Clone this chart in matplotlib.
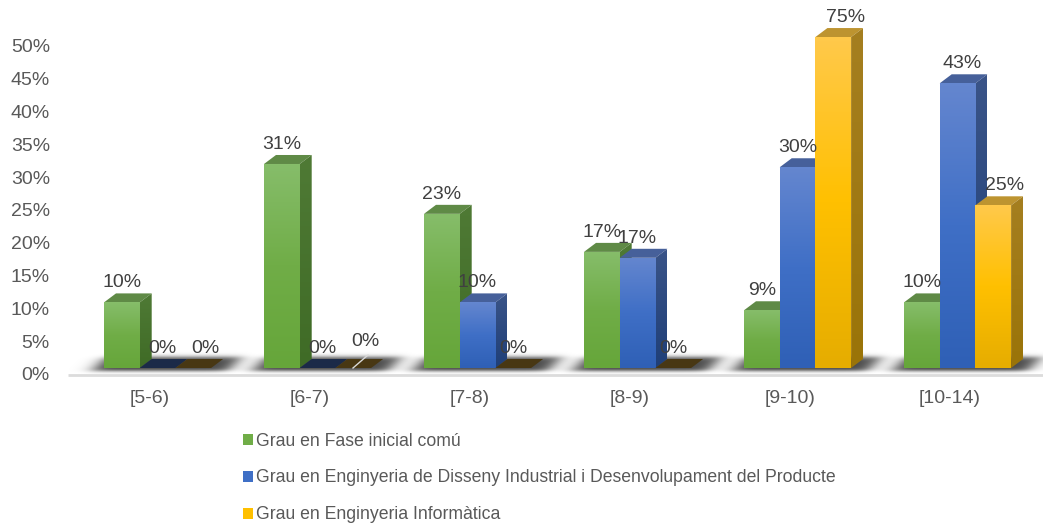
import numpy as np
import matplotlib
matplotlib.use("Agg")
import matplotlib.pyplot as plt
from matplotlib.patches import Patch, Polygon
from matplotlib.colors import LinearSegmentedColormap

plt.rcParams["font.family"] = ["Liberation Sans", "DejaVu Sans"]

categories = ["[5-6)", "[6-7)", "[7-8)", "[8-9)", "[9-10)", "[10-14)"]
series_names = [
    "Grau en Fase inicial comú",
    "Grau en Enginyeria de Disseny Industrial i Desenvolupament del Producte",
    "Grau en Enginyeria Informàtica",
]
fase_inicial = [10.0, 31.1, 23.5, 17.7, 8.8, 10.0]
disseny = [0, 0, 10.0, 16.8, 30.6, 43.4]
informatica = [0, 0, 0, 0, 75.0, 24.8]
fase_labels = ["10%", "31%", "23%", "17%", "9%", "10%"]
disseny_labels = ["0%", "0%", "10%", "17%", "30%", "43%"]
informatica_labels = ["0%", "0%", "0%", "0%", "75%", "25%"]

# ── Sizes in pixels of the 1043x524 canvas ───────────────────────────────────
W, H = 1043, 524
PX_PER_CAT = 160.0
PX_PER_PCT = 6.56
FLOOR_PX = 374
AXIS_MAX = 50.45      # the 3D axis stops here, taller bars are cut off
BASE = 6 / PX_PER_PCT
DX = 12 / PX_PER_CAT
DY = 9 / PX_PER_PCT
BAR_W = 35.7 / PX_PER_CAT
FIRST_BAR = -44 / PX_PER_CAT
TICK_NUDGE = 2 / PX_PER_CAT

STYLES = [
    dict(front=["#66a63a", "#70ad47", "#86bd6a"], side=["#3f6b26", "#4f7a35"], top="#5f8a46", zero="#3b5a28"),
    dict(front=["#2f60b6", "#3f6fc6", "#6486cf"], side=["#1f3f78", "#3a5488"], top="#46609a", zero="#1b2a48"),
    dict(front=["#e6ad00", "#ffc000", "#ffc94a"], side=["#9a7408", "#a57f20"], top="#bd9430", zero="#483713"),
]

# label nudges (px) where Excel moved the label away from the bar centre
LABEL_SHIFT = {
    (1, 0): (5, 0), (1, 1): (5, 0), (1, 5): (5, 0),
    (2, 0): (12, 0), (2, 1): (12, -7), (2, 4): (12, 0), (2, 5): (11, 0),
}

fig = plt.figure(figsize=(W / 100, H / 100), dpi=100, facecolor="white")
ax = fig.add_axes([68 / W, (H - FLOOR_PX) / H, 1 - 68 / W, FLOOR_PX / H])
xlim = (-0.5, (W - 148) / PX_PER_CAT)
ylim = (0, FLOOR_PX / PX_PER_PCT)


def fill_gradient(patch, colors, zorder):
    """Paint a vertical gradient (bottom to top) clipped to the patch."""
    ax.add_patch(patch)
    patch.set(facecolor="none", edgecolor="none", zorder=zorder)
    box = patch.get_path().vertices if isinstance(patch, Polygon) else patch.get_corners()
    x0, x1 = box[:, 0].min(), box[:, 0].max()
    y0, y1 = box[:, 1].min(), box[:, 1].max()
    cmap = LinearSegmentedColormap.from_list("g", colors)
    img = ax.imshow(np.linspace(1, 0, 64).reshape(-1, 1), cmap=cmap, aspect="auto",
                    extent=(x0, x1, y0, y1), zorder=zorder, interpolation="bilinear")
    img.set_clip_path(patch)


def floor_shadow(i):
    """Soft dark parallelogram under one category."""
    xs = np.linspace(60, 260, 220)
    ys = np.linspace(350, 378, 60)
    xx, yy = np.meshgrid(xs, ys)
    skew = xx + (yy - 370) * 0.95
    across = (np.tanh((skew - 93) / 10) - np.tanh((skew - 229) / 10)) / 2
    down = (np.tanh((yy - 357) / 2.6) - np.tanh((yy - 371) / 2.0)) / 2
    rgba = np.zeros(xx.shape + (4,))
    rgba[..., 3] = 0.72 * across * down
    left = (xs[0] - 148) / PX_PER_CAT + i
    right = (xs[-1] - 148) / PX_PER_CAT + i
    ax.imshow(rgba, aspect="auto", zorder=1, interpolation="bilinear",
              extent=(left, right, (FLOOR_PX - ys[-1]) / PX_PER_PCT, (FLOOR_PX - ys[0]) / PX_PER_PCT))


for i in range(len(categories)):
    floor_shadow(i)

all_values = [fase_inicial, disseny, informatica]
all_labels = [fase_labels, disseny_labels, informatica_labels]
positions = np.arange(len(categories))

for s, (values, labels, style) in enumerate(zip(all_values, all_labels, STYLES)):
    z = 3 + s
    lefts = positions + FIRST_BAR + s * BAR_W
    heights = np.minimum(values, AXIS_MAX)
    bars = ax.bar(lefts, heights, BAR_W, bottom=BASE, align="edge", zorder=z)
    for c, (bar, height) in enumerate(zip(bars, heights)):
        x0, x1 = bar.get_x(), bar.get_x() + bar.get_width()
        y0, y1 = BASE, BASE + height
        top_colour = style["top"] if height > 0 else style["zero"]
        ax.add_patch(Polygon([(x0, y1), (x1, y1), (x1 + DX, y1 + DY), (x0 + DX, y1 + DY)],
                             facecolor=top_colour, edgecolor="none", zorder=z))
        if height > 0:
            side = Polygon([(x1, y0), (x1 + DX, y0 + DY), (x1 + DX, y1 + DY), (x1, y1)])
            fill_gradient(side, style["side"], z)
            bar.set(edgecolor="none")
            fill_gradient(bar, style["front"], z + 0.1)
        else:
            bar.set_visible(False)
        shift = LABEL_SHIFT.get((s, c), (0, 0))
        ax.annotate(labels[c], xy=((x0 + x1) / 2, y1), textcoords="offset points",
                    xytext=(shift[0] * 0.72, (19.5 - shift[1]) * 0.72), ha="center", va="center",
                    fontsize=14, color="#404040", zorder=10)

# leader line of the moved 0% label in [6-7)
leader_x = 1 + (np.array([353, 368]) - 308) / PX_PER_CAT
leader_y = (FLOOR_PX - np.array([368, 355])) / PX_PER_PCT
ax.plot(leader_x, leader_y, color="#d9d9d9", lw=1, zorder=9)

ax.set_xlim(xlim)
ax.set_ylim(ylim)
ax.patch.set_alpha(0)
ax.set_xticks(positions + TICK_NUDGE, categories)
ax.set_yticks(np.arange(0, 55, 5), [f"{v}%" for v in range(0, 55, 5)])
ax.tick_params(axis="y", length=0, pad=13, labelsize=14, labelcolor="#595959")
ax.tick_params(axis="x", length=0, pad=10.5, labelsize=14, labelcolor="#595959")
for name in ["top", "right", "left"]:
    ax.spines[name].set_visible(False)
ax.spines["bottom"].set(color="#dcdcdc", linewidth=2)
ax.spines["bottom"].set_position(("outward", 1))
ax.spines["bottom"].set_capstyle("butt")

handles = [Patch(facecolor=st["front"][1], edgecolor="none") for st in STYLES]
fig.legend(handles, series_names, loc="upper left", bbox_to_anchor=(239 / W, 1 - 429 / H),
           frameon=False, fontsize=12.68, labelcolor="#595959", handlelength=0.58,
           handleheight=0.58, handletextpad=0.2, labelspacing=1.13, borderpad=0.2, borderaxespad=0)

fig.savefig("out.png", dpi=100, facecolor="white")
